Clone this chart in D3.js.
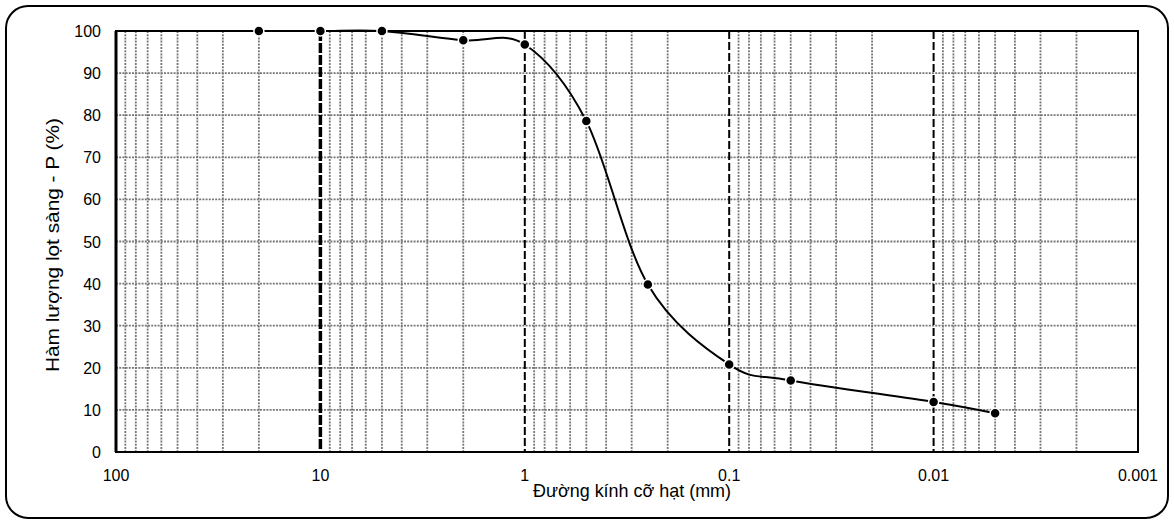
<!DOCTYPE html>
<html lang="vi">
<head>
  <meta charset="UTF-8">
  <title>Đường cong cấp phối hạt</title>
  <script src="https://d3js.org/d3.v7.min.js"></script>
  <style>
    html, body { margin: 0; padding: 0; background: #fff; }
    svg { display: block; }
    .tick-label { font-family: "Liberation Sans", Arial, sans-serif; font-size: 16px; fill: #000; }
    .axis-title { font-family: "Liberation Sans Narrow", "Arial Narrow", "Liberation Sans", sans-serif; font-size: 19px; fill: #000; }
  </style>
</head>
<body>
  <svg width="1174" height="524"></svg>
  <script>
    // kích thước hạt (mm) và phần trăm lọt sàng
    const sizes   = [20, 10, 5, 2, 1, 0.5, 0.25, 0.1, 0.05, 0.01, 0.005];
    const passing = [100, 100, 100, 97.8, 96.8, 78.6, 39.8, 20.8, 17.0, 11.9, 9.2];
    const xTicks  = [100, 10, 1, 0.1, 0.01, 0.001];
    const yTicks  = [0, 10, 20, 30, 40, 50, 60, 70, 80, 90, 100];
    const majorLines = [10, 1, 0.1, 0.01];

    const svg = d3.select("svg");
    const pLeft = 116, pRight = 1138, pTop = 31, pBottom = 452;

    const x = d3.scaleLog().domain([100, 0.001]).range([pLeft, pRight]);
    const y = d3.scaleLinear().domain([0, 100]).range([pBottom, pTop]);

    // khung bo tròn
    svg.append("rect")
      .attr("x", 6).attr("y", 6).attr("width", 1162).attr("height", 512)
      .attr("rx", 22).attr("ry", 22)
      .attr("fill", "none").attr("stroke", "#000").attr("stroke-width", 2);

    // minor grid dọc (2..9 mỗi decade)
    const minor = [];
    for (let e = -3; e < 2; e++) {
      for (let k = 2; k <= 9; k++) minor.push(k * Math.pow(10, e));
    }
    const grid = svg.append("g");
    grid.selectAll(".vminor").data(minor).enter().append("line")
      .attr("x1", d => x(d)).attr("x2", d => x(d))
      .attr("y1", pTop).attr("y2", pBottom)
      .attr("stroke", "#777").attr("stroke-width", 1.8).attr("stroke-dasharray", "2,1.2");

    grid.selectAll(".hgrid").data(yTicks.slice(1, -1)).enter().append("line")
      .attr("x1", pLeft).attr("x2", pRight)
      .attr("y1", d => y(d)).attr("y2", d => y(d))
      .attr("stroke", "#777").attr("stroke-width", 1.8).attr("stroke-dasharray", "2,1.2");

    // đường decade đậm nét đứt
    grid.selectAll(".major").data(majorLines).enter().append("line")
      .attr("x1", d => x(d)).attr("x2", d => x(d))
      .attr("y1", pTop).attr("y2", pBottom)
      .attr("stroke", "#000")
      .attr("stroke-width", d => d === 10 ? 3.5 : 2)
      .attr("stroke-dasharray", d => d === 10 ? "10,2" : "8,3");

    // khung vùng vẽ
    svg.append("rect")
      .attr("x", pLeft).attr("y", pTop).attr("width", pRight - pLeft).attr("height", pBottom - pTop)
      .attr("fill", "none").attr("stroke", "#000").attr("stroke-width", 2);
    svg.append("line")
      .attr("x1", pLeft).attr("x2", pLeft).attr("y1", pTop).attr("y2", pBottom)
      .attr("stroke", "#000").attr("stroke-width", 3);

    // nhãn trục
    svg.append("g").selectAll("text").data(yTicks).enter().append("text")
      .attr("class", "tick-label")
      .attr("x", pLeft - 15).attr("y", d => y(d) + 6)
      .attr("text-anchor", "end")
      .text(d => d);

    svg.append("g").selectAll("text").data(xTicks).enter().append("text")
      .attr("class", "tick-label")
      .attr("x", d => x(d)).attr("y", pBottom + 29)
      .attr("text-anchor", "middle")
      .text(d => d);

    svg.append("text").attr("class", "axis-title")
      .attr("x", 632).attr("y", 497).attr("text-anchor", "middle")
      .attr("textLength", 198).attr("lengthAdjust", "spacingAndGlyphs")
      .text("Đường kính cỡ hạt (mm)");

    svg.append("text").attr("class", "axis-title")
      .attr("transform", "translate(59,245) rotate(-90)")
      .attr("text-anchor", "middle")
      .attr("textLength", 254).attr("lengthAdjust", "spacingAndGlyphs")
      .text("Hàm lượng lọt sàng - P (%)");

    // đường cong cấp phối
    const pts = sizes.map((s, i) => [s, passing[i]]);
    const line = d3.line()
      .x(d => x(d[0])).y(d => y(d[1]))
      .curve(d3.curveCatmullRom.alpha(0));
    svg.append("path").datum(pts)
      .attr("d", line)
      .attr("fill", "none").attr("stroke", "#000").attr("stroke-width", 2);

    svg.append("g").selectAll("circle").data(pts).enter().append("circle")
      .attr("cx", d => x(d[0])).attr("cy", d => y(d[1]))
      .attr("r", 5)
      .attr("fill", "#000").attr("stroke", "#fff").attr("stroke-width", 1.5);
  </script>
</body>
</html>
